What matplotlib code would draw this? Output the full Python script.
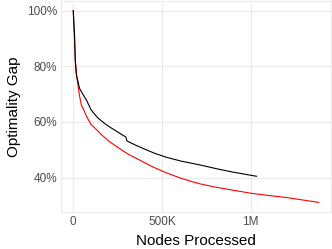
import matplotlib
matplotlib.use("Agg")
import matplotlib.pyplot as plt
import matplotlib.ticker as ticker

plt.rcParams['font.family'] = ['Liberation Sans', 'DejaVu Sans']

# nodes processed (thousands) and optimality gap (%)
black_nodes_k = [0, 3, 7, 11, 17, 24, 35, 45, 60, 73, 91, 100, 120, 138, 160, 184, 210, 240,
                 270, 296, 300, 302, 350, 400, 460, 525, 610, 711, 800, 898, 960, 1032]
black_gap = [100, 96, 91.6, 82, 77, 75.2, 72.1, 71.0, 69.3, 68, 65.6, 64.4, 62.8, 61.5, 60.3,
             59.1, 58.0, 56.8, 55.6, 54.6, 53.8, 53.2, 51.7, 50.3, 48.7, 47.3, 45.9, 44.6,
             43.3, 42.0, 41.3, 40.5]

red_nodes_k = [0, 3, 7, 12, 20, 26, 35, 45, 60, 73, 100, 130, 156, 200, 250, 310, 380, 450,
               525, 610, 711, 800, 898, 1010, 1100, 1196, 1290, 1383]
red_gap = [100, 95, 90, 82, 76, 73.5, 69.5, 66.2, 64.2, 62.2, 59.1, 57.3, 55.6, 53.1, 50.9,
           48.4, 46.1, 43.8, 41.7, 39.7, 37.8, 36.6, 35.5, 34.3, 33.6, 32.9, 32.0, 31.1]

x_ticks = [0, 500000, 1000000]
x_labels = ["0", "500K", "1M"]
y_ticks = [40, 60, 80, 100]

W, H = 332, 249
fig = plt.figure(figsize=(W / 100, H / 100), dpi=100)
ax = fig.add_axes([61 / W, 1 - 212 / H, 270 / W, 211 / H])

grid_col = "#EBEBEB"
ax.plot([v * 1000 for v in red_nodes_k], red_gap, color="red", linewidth=0.8)
ax.plot([v * 1000 for v in black_nodes_k], black_gap, color="black", linewidth=0.8)
ax.margins(0.05)

ax.set_xticks(x_ticks)
ax.xaxis.set_major_formatter(ticker.FixedFormatter(x_labels))
ax.set_yticks(y_ticks)
ax.yaxis.set_major_formatter(ticker.FuncFormatter(lambda v, p: "{0:.0f}%".format(v)))

ax.grid(True, color=grid_col, linewidth=0.9)
ax.set_axisbelow(True)
for s in ax.spines.values():
    s.set_color(grid_col)
    s.set_linewidth(0.9)
ax.tick_params(length=0, labelsize=8.5, labelcolor="#4D4D4D", pad=3)

ax.set_xlabel("Nodes Processed", fontsize=11, labelpad=4)
ax.set_ylabel("Optimality Gap", fontsize=11, labelpad=4)

fig.savefig("out.png", dpi=100)
